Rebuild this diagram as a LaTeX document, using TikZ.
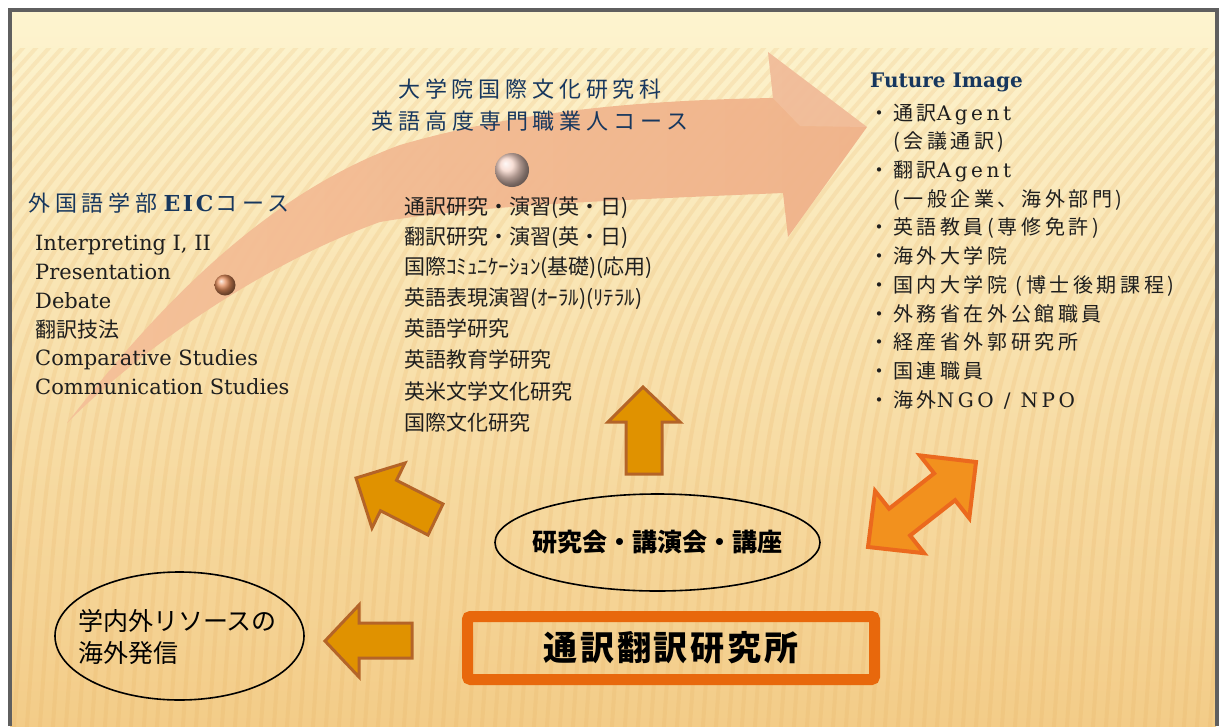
\documentclass[tikz,border=0pt]{standalone}
\usepackage{fontspec}
\setmainfont{DejaVu Serif}
\newfontfamily\jp{Noto Sans CJK JP}
\newfontfamily\jpR{Noto Sans CJK JP}[LetterSpace=18]
\newfontfamily\jpH{Noto Sans CJK JP}[LetterSpace=22]
\newfontfamily\serR{DejaVu Serif}[LetterSpace=18]
\newfontfamily\serH{DejaVu Serif}[LetterSpace=12]
\usetikzlibrary{shapes.geometric}
\definecolor{bgtop}{RGB}{253,244,207}
\definecolor{bgmid}{RGB}{249,229,178}
\definecolor{bgbot}{RGB}{243,204,136}
\definecolor{stripecol}{RGB}{230,170,90}
\definecolor{bandL}{RGB}{244,192,152}
\definecolor{bandR}{RGB}{240,178,138}
\definecolor{navy}{RGB}{23,55,94}
\definecolor{txt}{RGB}{30,30,30}
\definecolor{blkfill}{RGB}{224,146,0}
\definecolor{blkline}{RGB}{180,100,40}
\definecolor{dblfill}{RGB}{242,145,30}
\definecolor{dblline}{RGB}{235,105,30}
\definecolor{boxline}{RGB}{232,104,12}
\definecolor{framegray}{RGB}{95,95,95}
\tikzset{
  stripeline/.style={draw=stripecol, line width=4pt, opacity=0.16},
  blk/.style={fill=blkfill, draw=blkline, line width=3pt, line join=miter},
  dbl/.style={fill=dblfill, draw=dblline, line width=4pt, line join=miter},
  head/.style={anchor=base west, inner sep=0, text=navy},
  eic/.style={anchor=base west, inner sep=0, text=txt, font=\fontsize{21}{25}\selectfont},
  mid/.style={anchor=base west, inner sep=0, text=txt, font=\jp\fontsize{21}{25}\selectfont},
  rl/.style={anchor=base west, inner sep=0, text=txt, font=\fontsize{20}{24}\selectfont},
  bul/.style={anchor=base west, inner sep=0, text=txt, font=\jp\fontsize{20}{24}\selectfont},
  oval/.style={ellipse, draw=black, line width=1.6pt, inner sep=0}
}
\begin{document}
\begin{tikzpicture}[x=1pt,y=-1pt]
\useasboundingbox (0,0) rectangle (1221,726);
\fill[white] (0,0) rectangle (1221,726);
% background
\shade[top color=bgtop, middle color=bgmid, bottom color=bgbot] (10,10) rectangle (1216,726);
\begin{scope}
  \clip (10,48) rectangle (1216,726);
  \foreach \i in {-30,...,95} {
    \draw[stripeline] (\i*13,740) .. controls (\i*13+30,300) .. (\i*13+300,0);
  }
\end{scope}
% frame
\draw[framegray, line width=3.5pt] (10,726) -- (10,10) -- (1217,10) -- (1217,726);

% big curved arrow
\shade[left color=bandL, right color=bandR, opacity=0.95]
  (67,423) .. controls (140,330) and (250,200) .. (400,145)
  .. controls (520,110) and (650,100) .. (773,98)
  -- (768,52) -- (867,127) -- (788,237) -- (783,193)
  .. controls (620,200) and (480,205) .. (380,222)
  .. controls (260,265) and (140,350) .. (67,423) -- cycle;
\fill[white, opacity=0.12] (773,98) -- (768,52) -- (867,127) -- (800,126) -- cycle;

% spheres
\shade[ball color={rgb,255:red,228;green,140;blue,90}] (225,285) circle (10.5);
\shade[ball color={rgb,255:red,245;green,212;blue,200}] (512,170) circle (17);

% left heading and list
\node[head, font=\fontsize{22}{26}\selectfont] (eichead) at (28,211)
  {{\jpH 外国語学部}\hspace{6pt}{\serH\bfseries EIC}\hspace{2pt}{\jpH コース}};
\node[eic] (e1) at (35,250) {Interpreting I, II};
\node[eic] (e2) at (35,279) {Presentation};
\node[eic] (e3) at (35,308) {Debate};
\node[eic, font=\jp\fontsize{21}{25}\selectfont] (e4) at (35,337) {翻訳技法};
\node[eic] (e5) at (35,365) {Comparative Studies};
\node[eic] (e6) at (35,394) {Communication Studies};

% middle heading and list
\node[anchor=base, inner sep=0, text=navy, font=\jpH\fontsize{22}{26}\selectfont] (midh1) at (530,97) {大学院国際文化研究科};
\node[anchor=base, inner sep=0, text=navy, font=\jpH\fontsize{22}{26}\selectfont] (midh2) at (530,129) {英語高度専門職業人コース};
\node[mid] (m1) at (404,214) {通訳研究・演習(英・日)};
\node[mid] (m2) at (404,244) {翻訳研究・演習(英・日)};
\node[mid] (m3) at (404,274) {国際ｺﾐｭﾆｹｰｼｮﾝ(基礎)(応用)};
\node[mid] (m4) at (404,305) {英語表現演習(ｵｰﾗﾙ)(ﾘﾃﾗﾙ)};
\node[mid] (m5) at (404,336) {英語学研究};
\node[mid] (m6) at (404,367) {英語教育学研究};
\node[mid] (m7) at (404,399) {英米文学文化研究};
\node[mid] (m8) at (404,430) {国際文化研究};

% right heading and list
\node[head, font=\bfseries\fontsize{20}{24}\selectfont] (futh) at (870,87) {Future Image};
\node[rl] (f1) at (893,120) {{\jpR 通訳}{\serR Agent}};
\node[rl] (f2) at (893,148.7) {{\jpR (会議通訳)}};
\node[rl] (f3) at (893,177.4) {{\jpR 翻訳}{\serR Agent}};
\node[rl] (f4) at (893,206) {{\jpR (一般企業、海外部門)}};
\node[rl] (f5) at (893,234.8) {{\jpR 英語教員(専修免許)}};
\node[rl] (f6) at (893,263.5) {{\jpR 海外大学院}};
\node[rl] (f7) at (893,292) {{\jpR 国内大学院 (博士後期課程)}};
\node[rl] (f8) at (893,321) {{\jpR 外務省在外公館職員}};
\node[rl] (f9) at (893,349.7) {{\jpR 経産省外郭研究所}};
\node[rl] (f10) at (893,378.4) {{\jpR 国連職員}};
\node[rl] (f11) at (893,407) {{\jpR 海外}{\serR NGO / NPO}};
\foreach \y/\n in {120/1,177.4/3,234.8/5,263.5/6,292/7,321/8,349.7/9,378.4/10,407/11}
  \node[bul] (b\n) at (869,\y) {・};

% block arrows
\filldraw[blk] (643,387) -- (680,422) -- (662,422) -- (662,474) -- (626,474) -- (626,422) -- (608,422) -- cycle;
\filldraw[blk] (356,478) -- (405,463) -- (396.5,480.3) -- (443,504) -- (428,535) -- (380.5,510.7) -- (372,528) -- cycle;
\filldraw[blk] (325,641) -- (359,605) -- (359,623) -- (412,623) -- (412,658) -- (359,658) -- (359,677) -- cycle;
\filldraw[dbl] (868,547) -- (875.1,491) -- (889.1,508.7) -- (934.1,473.4) -- (919.9,455.4) -- (976,462)
  -- (969.3,518.2) -- (955.1,500.2) -- (910.1,535.5) -- (924.1,553.2) -- cycle;

% ellipses
\node[oval, minimum width=325pt, minimum height=97pt] (kouen) at (657.5,542.5) {};
\node[inner sep=0, font=\jp\bfseries\fontsize{25}{30}\selectfont, text=black] (kouentext) at (657,542)
  {研究会・講演会・講座};
\node[oval, minimum width=249pt, minimum height=128pt] (resource) at (179.5,636) {};
\node[anchor=base west, inner sep=0, font=\jp\fontsize{25}{32}\selectfont, text=black] (restext) at (78,630)
  {学内外リソースの};
\node[anchor=base west, inner sep=0, font=\jp\fontsize{25}{32}\selectfont, text=black] (restext2) at (78,662)
  {海外発信};

% institute box
\node[draw=boxline, line width=11pt, rounded corners=3pt, minimum width=407pt, minimum height=63pt, inner sep=0,
      font=\jp\bfseries\fontsize{34}{40}\selectfont, text=black] (inst) at (671,648) {\addfontfeature{LetterSpace=8}通訳翻訳研究所};
\end{tikzpicture}
\end{document}
